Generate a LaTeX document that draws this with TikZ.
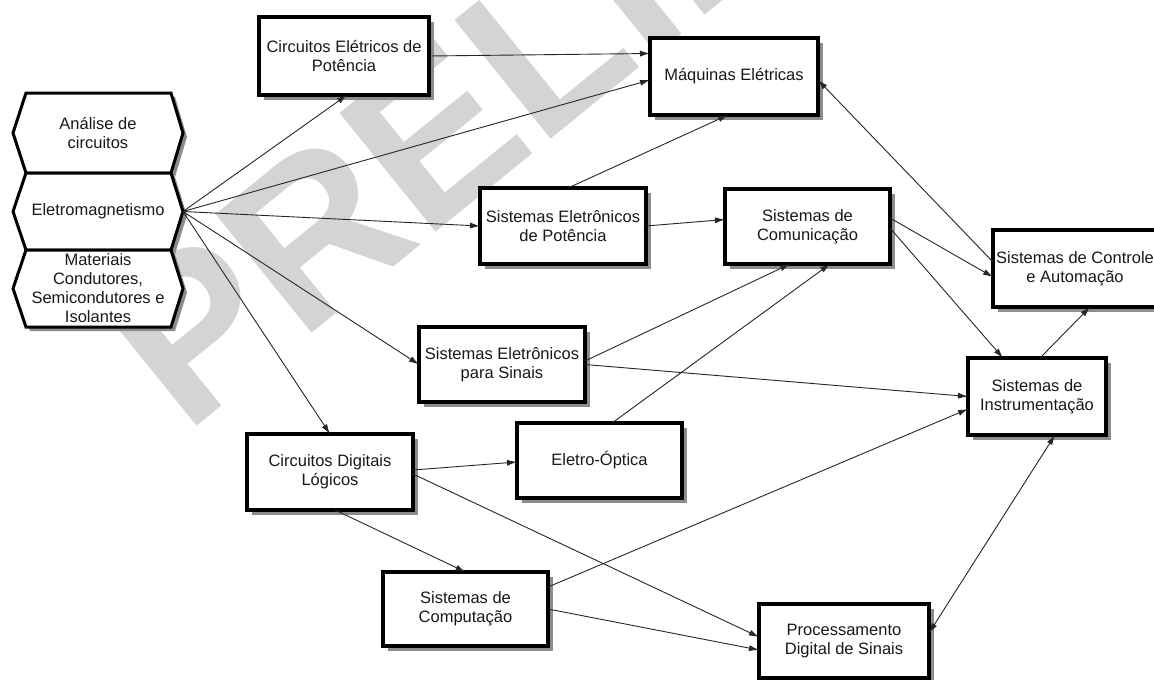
\documentclass[tikz,border=0pt]{standalone}
\usepackage{fontspec}
\setmainfont{Liberation Sans}
\usetikzlibrary{calc,arrows.meta}
\pgfdeclarelayer{wmark}
\pgfdeclarelayer{shade}
\pgfsetlayers{wmark,shade,main}
\begin{document}
\begin{tikzpicture}[x=1pt,y=-1pt,
  txt/.style={font=\fontsize{16.5}{19}\selectfont, align=center, text=black!90},
  box/.style={txt, draw=black, line width=4pt, fill=white, inner sep=0pt, outer sep=0pt},
  hexbox/.style={txt, inner sep=0pt, outer sep=0pt, minimum width=170pt},
  hexpath/.style={insert path={(#1.west) -- ($(#1.north west)+(13,0)$) -- ($(#1.north east)+(-12,0)$) -- (#1.east) -- ($(#1.south east)+(-12,0)$) -- ($(#1.south west)+(13,0)$) -- cycle}},
  hexshadow/.style={insert path={($(#1.west)+(4,4)$) -- ($(#1.north west)+(17,4)$) -- ($(#1.north east)+(-8,4)$) -- ($(#1.east)+(4,4)$) -- ($(#1.south east)+(-8,4)$) -- ($(#1.south west)+(17,4)$) -- cycle}},
  shadowfill/.style={fill=black!45},
  conn/.style={draw=black!85, line width=0.9pt, -{Latex[length=10pt,width=6pt]}},
  dconn/.style={draw=black!85, line width=0.9pt, {Latex[length=10pt,width=6pt]}-{Latex[length=10pt,width=6pt]}},
]
\useasboundingbox (0,0) rectangle (1154,680);
\begin{pgfonlayer}{wmark}
\begin{scope}
\clip (0,0) rectangle (1154,680);
\fill[white] (0,0) rectangle (1154,680);
\node[rotate=39, anchor=base west, inner sep=0pt, text=black!17, font=\bfseries\fontsize{222}{222}\selectfont] (wm) at (185,436) {PRELIMINAR};
\end{scope}
\end{pgfonlayer}
% hexagon nodes
\node[hexbox, minimum height=80pt] (ana) at (98,133) {Análise de\\circuitos};
\node[hexbox, minimum height=77pt] (ele) at (98,211.5) {Eletromagnetismo};
\node[hexbox, minimum height=77pt] (mat) at (98,288.5) {Materiais\\Condutores,\\Semicondutores e\\Isolantes};
% boxes
\node[box, minimum width=170pt, minimum height=78pt] (cep) at (344,56) {Circuitos Elétricos de\\Potência};
\node[box, minimum width=168pt, minimum height=77pt] (maq) at (734,76.5) {Máquinas Elétricas};
\node[box, minimum width=166pt, minimum height=76pt] (sep) at (563,226) {Sistemas Eletrônicos\\de Potência};
\node[box, minimum width=165pt, minimum height=75pt] (com) at (807.5,226.5) {Sistemas de\\Comunicação};
\node[box, minimum width=164pt, minimum height=77pt] (ctl) at (1075,268.5) {Sistemas de Controle\\e Automação};
\node[box, minimum width=166pt, minimum height=75pt] (ses) at (502,364.5) {Sistemas Eletrônicos\\para Sinais};
\node[box, minimum width=138pt, minimum height=77pt] (ins) at (1037,396.5) {Sistemas de\\Instrumentação};
\node[box, minimum width=166pt, minimum height=76pt] (cdl) at (330,472) {Circuitos Digitais\\Lógicos};
\node[box, minimum width=165pt, minimum height=75pt] (eo) at (599.5,460.5) {Eletro-Óptica};
\node[box, minimum width=165pt, minimum height=74pt] (cmp) at (465.5,609) {Sistemas de\\Computação};
\node[box, minimum width=170pt, minimum height=74pt] (pds) at (844,641) {Processamento\\Digital de Sinais};
% shadows and hexagon outlines (under the texts)
\begin{pgfonlayer}{shade}
\foreach \n in {cep,maq,sep,com,ctl,ses,ins,cdl,eo,cmp,pds}{
  \fill[shadowfill] ($(\n.north west)+(5,5)$) rectangle ($(\n.south east)+(5,5)$);
}
\foreach \h in {ana,ele,mat}{
  \fill[shadowfill, hexshadow=\h];
}
\foreach \h in {ana,ele,mat}{
  \draw[line width=3pt, fill=white, line join=miter, hexpath=\h];
}
\end{pgfonlayer}
% connectors
\draw[conn] (ele.east) -- ($(cep.south west)+(88,0)$);
\draw[conn] (cep.east) -- ($(maq.west)+(0,-23)$);
\draw[conn] (ele.east) -- ($(maq.west)+(0,3.5)$);
\draw[conn] (ele.east) -- (sep.west);
\draw[conn] (ele.east) -- (ses.west);
\draw[conn] (ele.east) -- (cdl.north);
\draw[conn] ($(sep.north)+(5,0)$) -- ($(maq.south)+(-6,0)$);
\draw[conn] (sep.east) -- ($(com.west)+(0,-7)$);
\draw[conn] ($(ctl.west)+(0,-6.5)$) -- ($(maq.east)+(0,3.5)$);
\draw[conn] ($(com.east)+(0,-8.5)$) -- ($(ctl.west)+(0,8.5)$);
\draw[conn] ($(com.east)+(0,1.5)$) -- ($(ins.north)+(-34,0)$);
\draw[conn] ($(ses.east)+(0,-3.5)$) -- ($(com.south)+(-17.5,0)$);
\draw[conn] (ses.east) -- (ins.west);
\draw[conn] ($(eo.north)+(12.5,0)$) -- ($(com.south)+(22.5,0)$);
\draw[conn] ($(cdl.east)+(0,-2)$) -- ($(eo.west)+(0,1.5)$);
\draw[conn] ($(cdl.east)+(0,2)$) -- ($(pds.west)+(0,-4)$);
\draw[conn] ($(cdl.south)+(5,0)$) -- (cmp.north);
\draw[conn] (cmp.east) -- ($(pds.west)+(0,9)$);
\draw[conn] ($(cmp.east)+(0,-22)$) -- ($(ins.west)+(0,12.5)$);
\draw[dconn] ($(pds.east)+(0,-8)$) -- ($(ins.south)+(18,0)$);
\draw[conn] ($(ins.north)+(3,0)$) -- ($(ctl.south)+(15,0)$);
\end{tikzpicture}
\end{document}
